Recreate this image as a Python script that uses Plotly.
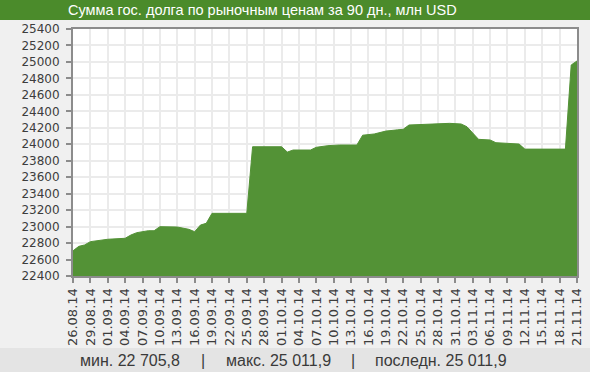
import plotly.graph_objects as go

dates = ["2014-08-26", "2014-08-27", "2014-08-28", "2014-08-29", "2014-09-01",
         "2014-09-04", "2014-09-05", "2014-09-06", "2014-09-08", "2014-09-09",
         "2014-09-10", "2014-09-13", "2014-09-15", "2014-09-16", "2014-09-17",
         "2014-09-18", "2014-09-19", "2014-09-25", "2014-09-26", "2014-10-01",
         "2014-10-02", "2014-10-03", "2014-10-06", "2014-10-07", "2014-10-09",
         "2014-10-11", "2014-10-14", "2014-10-15", "2014-10-17", "2014-10-19",
         "2014-10-21", "2014-10-22", "2014-10-23", "2014-10-29", "2014-10-30",
         "2014-11-01", "2014-11-02", "2014-11-04", "2014-11-06", "2014-11-07",
         "2014-11-11", "2014-11-12", "2014-11-19", "2014-11-20", "2014-11-21"]
values = [22705.8, 22760, 22777, 22817, 22846,
          22858, 22898, 22926, 22950, 22950,
          22999, 22995, 22967, 22938, 23019,
          23040, 23161, 23161, 23970, 23970,
          23905, 23930, 23930, 23963, 23983,
          23991, 23991, 24110, 24125, 24160,
          24175, 24182, 24234, 24246, 24254,
          24246, 24213, 24060, 24052, 24019,
          24003, 23941, 23941, 24963, 25011.9]

title_text = "Сумма гос. долга по рыночным ценам за 90 дн., млн USD"
stats = ["мин. 22 705,8", "макс. 25 011,9", "последн. 25 011,9"]

W, H = 590, 372
L, R, T, B = 73, 577, 29, 276


def px(x):
    return (x - L) / (R - L)


def py(y):
    return (B - y) / (B - T)


fig = go.Figure()
fig.add_trace(go.Scatter(
    x=dates, y=values, mode="lines", fill="tozeroy",
    line=dict(color="#539236", width=1), fillcolor="#539236",
    hoverinfo="skip", showlegend=False))

fig.update_layout(
    width=W, height=H,
    margin=dict(l=L, r=W - R, t=T, b=H - B, pad=0, autoexpand=False),
    paper_bgcolor="#f0f0f0", plot_bgcolor="#ffffff",
    xaxis=dict(
        type="date", range=["2014-08-26", "2014-11-21"], automargin=False,
        tick0="2014-08-26", dtick=3 * 86400000, tickformat="%d.%m.%y",
        tickangle=-90, tickfont=dict(family="DejaVu Sans", size=13, color="#3d3d3d"),
        ticks="outside", ticklen=5, tickwidth=1.5, tickcolor="#8c8c8c",
        showgrid=True, gridcolor="#ebebeb", gridwidth=2,
        showline=True, linecolor="#8c8c8c", linewidth=2, mirror=True,
        zeroline=False, fixedrange=True),
    yaxis=dict(
        range=[22400, 25400], dtick=200, tick0=22400, automargin=False,
        tickfont=dict(family="DejaVu Sans", size=12, color="#3d3d3d"), tickformat="d",
        ticks="outside", ticklen=5, tickwidth=1.5, tickcolor="#8c8c8c",
        ticklabelstandoff=4,
        showgrid=True, gridcolor="#ebebeb", gridwidth=2,
        showline=True, linecolor="#8c8c8c", linewidth=2, mirror=True,
        zeroline=False, fixedrange=True),
)

shapes = [
    dict(type="rect", xref="paper", yref="paper", x0=px(0), x1=px(W), y0=py(20), y1=py(0),
         fillcolor="#4b8b2b", line=dict(width=0), layer="above"),
    dict(type="rect", xref="paper", yref="paper", x0=px(0), x1=px(W), y0=py(H), y1=py(348),
         fillcolor="#e4e4e4", line=dict(width=0), layer="below"),
]
fig.update_layout(shapes=shapes)

stat_font = dict(family="Liberation Sans", size=16, color="#3a3a3a")
annos = [
    dict(text=title_text, x=px(262), y=py(10), xref="paper", yref="paper",
         showarrow=False, xanchor="center", yanchor="middle",
         font=dict(family="Liberation Sans", size=14.5, color="#ffffff")),
    dict(text=stats[0], x=px(130), y=py(360), xref="paper", yref="paper",
         showarrow=False, xanchor="center", yanchor="middle", font=stat_font),
    dict(text="|", x=px(203), y=py(360), xref="paper", yref="paper",
         showarrow=False, xanchor="center", yanchor="middle", font=stat_font),
    dict(text=stats[1], x=px(278), y=py(360), xref="paper", yref="paper",
         showarrow=False, xanchor="center", yanchor="middle", font=stat_font),
    dict(text="|", x=px(353), y=py(360), xref="paper", yref="paper",
         showarrow=False, xanchor="center", yanchor="middle", font=stat_font),
    dict(text=stats[2], x=px(441), y=py(360), xref="paper", yref="paper",
         showarrow=False, xanchor="center", yanchor="middle", font=stat_font),
]
fig.update_layout(annotations=annos)

fig.write_html("out.html", config={"displayModeBar": False},
               post_script="document.body.style.margin='0';document.body.style.padding='0';")
